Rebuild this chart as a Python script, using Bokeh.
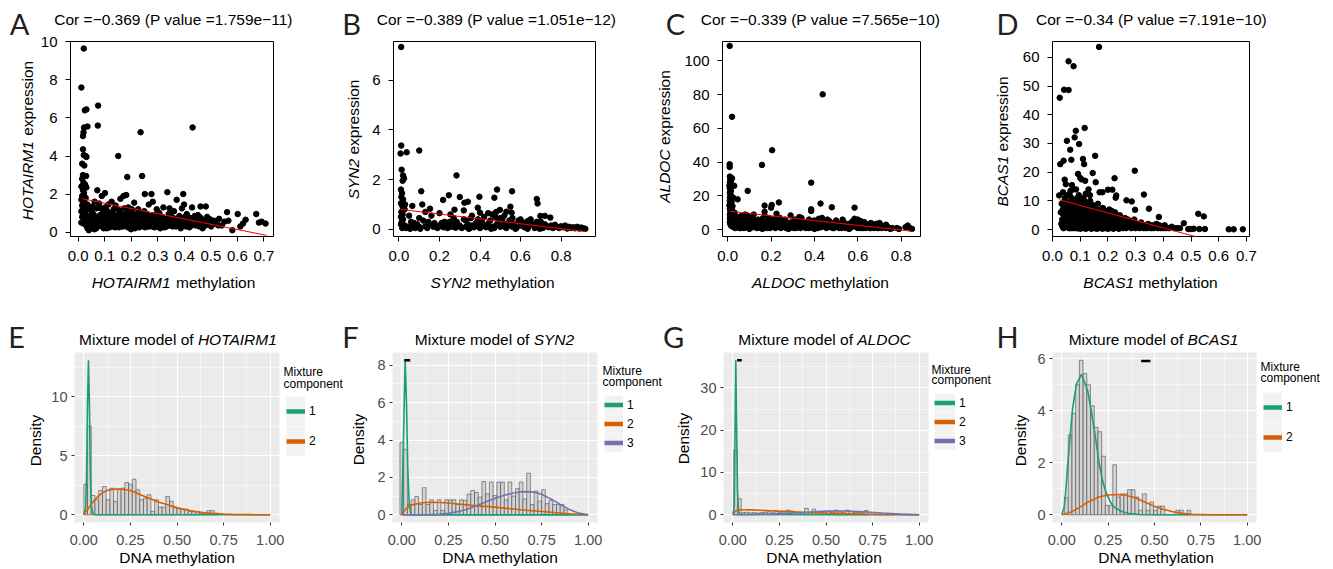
import math
from bokeh.plotting import figure
from bokeh.models import Label, FixedTicker, Legend, LegendItem, Range1d
from bokeh.layouts import row, column
from bokeh.embed import file_html
from bokeh.resources import INLINE

NAN = float("nan")

# ---------------------------------------------------------------- data: scatter panels
hotairm1_points = [
    (0.012,7.6),(0.021,9.65),(0.025,6.4),(0.031,6.45),(0.022,5.5),(0.02,5.25),(0.018,5.05),(0.035,5.55),
    (0.018,4.35),(0.021,4.05),(0.028,4.0),(0.031,3.95),(0.015,3.6),(0.023,3.5),(0.018,3.0),(0.03,2.95),
    (0.015,2.8),(0.02,2.6),(0.026,2.5),(0.012,2.4),(0.031,2.35),(0.018,2.2),(0.022,2.05),(0.015,1.9),
    (0.028,1.8),(0.012,1.7),(0.02,1.6),(0.025,1.5),(0.015,1.4),(0.03,1.3),(0.02,1.2),(0.012,1.1),
    (0.025,1.0),(0.018,0.95),(0.03,0.85),(0.015,0.8),(0.022,0.7),(0.028,0.6),(0.012,0.5),(0.02,0.45),
    (0.03,0.35),(0.035,0.2),(0.04,0.1),(0.045,0.3),(0.04,0.55),(0.035,1.45),(0.04,1.2),
    (0.051,0.25),(0.049,0.6),(0.053,1.05),(0.056,0.45),(0.054,1.35),(0.061,0.15),(0.059,0.9),(0.062,1.6),
    (0.066,0.5),(0.064,0.3),(0.071,0.65),(0.069,1.25),(0.072,2.2),(0.075,6.65),(0.074,5.6),(0.081,0.5),
    (0.079,1.5),(0.082,0.35),(0.086,1.25),(0.084,0.55),(0.091,0.4),(0.089,1.9),(0.092,0.8),(0.096,0.2),
    (0.094,0.6),(0.101,2.05),(0.099,0.6),(0.102,1.3),(0.106,0.85),(0.104,0.45),(0.111,1.1),(0.109,0.35),
    (0.112,0.55),(0.116,0.7),(0.114,1.45),(0.121,0.5),(0.119,0.25),(0.122,0.9),(0.126,1.6),(0.124,0.6),
    (0.131,0.7),(0.129,1.0),(0.132,0.4),(0.136,0.55),(0.134,1.2),(0.141,1.4),(0.139,0.25),(0.142,0.45),
    (0.146,0.8),(0.144,0.6),(0.151,4.0),(0.149,0.9),(0.152,0.5),(0.156,0.35),(0.154,1.15),(0.161,0.55),
    (0.159,1.75),(0.162,0.7),(0.166,0.45),(0.164,0.95),(0.171,1.9),(0.169,0.3),(0.172,0.6),(0.176,0.8),
    (0.174,1.25),(0.181,1.95),(0.179,0.8),(0.182,0.5),(0.185,2.9),(0.184,0.65),(0.187,0.25),(0.191,0.45),
    (0.189,1.3),(0.192,0.9),(0.196,0.6),(0.194,1.05),(0.201,0.6),(0.199,0.15),(0.202,1.2),(0.204,0.75),
    (0.206,1.0),(0.207,0.45),(0.211,1.55),(0.209,0.7),(0.212,0.5),(0.216,0.35),(0.214,0.2),(0.217,0.9),
    (0.221,0.9),(0.219,0.5),(0.222,0.6),(0.226,1.2),(0.224,0.7),(0.231,0.65),(0.229,0.25),(0.232,0.4),
    (0.235,5.25),(0.236,0.55),(0.234,1.0),(0.241,2.95),(0.239,0.4),(0.242,0.85),(0.246,0.8),(0.244,0.6),
    (0.251,2.0),(0.249,1.1),(0.252,0.25),(0.253,0.5),(0.256,0.55),(0.254,0.7),(0.261,0.3),(0.259,0.95),
    (0.262,0.6),(0.266,1.45),(0.264,0.45),(0.271,0.75),(0.269,0.55),(0.276,2.0),(0.274,0.5),(0.277,0.35),
    (0.281,1.6),(0.279,0.3),(0.282,0.65),(0.286,0.9),(0.284,0.5),(0.291,0.35),(0.289,0.7),(0.296,1.2),
    (0.294,0.6),(0.301,0.6),(0.299,0.85),(0.302,0.4),(0.306,1.0),(0.304,0.5),(0.311,0.45),(0.309,0.2),
    (0.312,0.65),(0.316,0.8),(0.314,0.55),(0.321,1.3),(0.319,0.55),(0.326,0.25),(0.324,0.7),(0.331,0.65),
    (0.329,0.4),(0.336,2.1),(0.334,0.5),(0.341,0.95),(0.339,0.6),(0.346,0.5),(0.344,1.25),(0.351,0.75),
    (0.349,1.0),(0.352,0.35),(0.356,0.3),(0.354,0.6),(0.361,1.1),(0.359,0.45),(0.371,1.7),(0.369,0.55),
    (0.376,0.7),(0.381,0.85),(0.379,0.35),(0.386,0.2),(0.384,0.6),(0.391,1.25),(0.389,0.45),(0.396,2.0),
    (0.394,0.75),(0.401,0.6),(0.399,1.45),(0.406,0.3),(0.411,0.4),(0.409,0.95),(0.416,0.55),(0.421,0.75),
    (0.419,0.25),(0.431,5.5),(0.429,1.3),(0.432,0.5),(0.441,0.5),(0.439,0.85),(0.446,0.65),(0.451,0.9),
    (0.449,0.6),(0.456,0.3),(0.454,0.5),(0.461,1.35),(0.459,0.55),(0.466,0.65),(0.464,0.7),(0.471,0.45),
    (0.469,0.2),(0.481,1.35),(0.479,0.6),(0.486,0.8),(0.491,0.55),(0.489,0.4),(0.501,0.3),(0.499,0.65),
    (0.511,0.45),(0.521,0.55),(0.531,0.7),(0.529,0.35),(0.541,0.35),(0.551,0.55),(0.561,1.05),(0.566,0.6),
    (0.581,0.1),(0.601,0.95),(0.611,0.3),(0.621,0.45),(0.631,0.65),(0.671,0.95),(0.681,0.5),(0.691,0.55),
    (0.706,0.45),
    (0.043,0.65),(0.047,0.9),(0.058,0.4),(0.063,0.75),(0.068,0.2),(0.077,0.7),(0.083,0.9),(0.088,0.3),
    (0.093,1.05),(0.098,0.35),(0.103,0.7),(0.108,0.2),(0.113,0.85),(0.118,0.4),(0.123,0.75),(0.128,0.3),
    (0.133,0.85),(0.138,0.6),(0.143,0.35),(0.148,0.7),(0.153,0.25),(0.158,0.6),(0.163,0.3),(0.168,0.8),
    (0.173,0.45),(0.178,0.35),(0.183,1.05),(0.188,0.6),(0.193,0.35),(0.198,0.8),(0.203,0.35),(0.208,0.6),
    (0.213,0.85),(0.218,0.65),(0.223,0.35),(0.228,0.55),(0.233,0.8),(0.238,0.3),(0.243,0.5),(0.248,0.75),
    (0.258,0.4),(0.263,0.8),(0.268,0.3),(0.273,0.6),(0.278,0.85),(0.283,0.45),(0.288,0.25),(0.293,0.5),
    (0.298,0.3),(0.303,0.7),(0.308,0.55),(0.313,0.35),(0.318,0.7),(0.323,0.45),(0.328,0.55),(0.333,0.3),
    (0.338,0.75),(0.343,0.35),(0.348,0.6),(0.358,0.75),(0.363,0.5),(0.368,0.3),(0.373,0.45),(0.378,0.6),
    (0.383,0.45),(0.388,0.7),(0.393,0.3),(0.398,0.5),(0.403,0.8),(0.413,0.7),(0.418,0.45),(0.423,0.6),
    (0.428,0.35),(0.438,0.6),(0.443,0.35),(0.448,0.75),(0.458,0.8),(0.463,0.4),(0.473,0.6),(0.478,0.35),
    (0.483,0.5),(0.493,0.7),(0.503,0.5),(0.513,0.6),(0.523,0.4),
]
hotairm1_fit_x = [0.014, 0.71]
hotairm1_fit_y = [1.76, -0.17]

syn2_points = [
    (0.011,7.34),(0.011,3.37),(0.008,3.05),(0.038,3.1),(0.1,3.17),(0.013,2.4),(0.02,2.17),(0.025,2.05),
    (0.018,1.95),(0.01,1.6),(0.015,1.45),(0.012,1.3),(0.02,1.2),(0.01,1.05),(0.016,0.95),(0.022,0.85),
    (0.012,0.7),(0.018,0.6),(0.01,0.5),(0.02,0.4),(0.014,0.3),(0.01,0.2),(0.02,0.12),(0.016,0.05),
    (0.03,0.15),(0.035,0.05),(0.028,0.8),(0.03,1.0),
    (0.284,2.17),(0.484,1.6),(0.558,1.53),(0.11,1.53),(0.246,1.37),(0.218,1.18),(0.30,1.3),(0.397,1.31),
    (0.471,1.27),(0.68,1.22),(0.684,1.04),(0.323,1.07),(0.34,1.11),(0.115,1.0),(0.066,0.94),(0.153,0.83),
    (0.389,0.87),(0.274,0.79),(0.32,0.76),(0.254,0.6),(0.40,0.67),(0.498,0.78),(0.53,0.71),(0.55,0.91),
    (0.556,0.67),(0.698,0.54),(0.72,0.54),(0.747,0.47),
    (0.05,0.1),(0.06,0.3),(0.07,0.15),(0.08,0.05),(0.09,0.2),(0.1,0.1),(0.12,0.35),(0.13,0.12),(0.14,0.05),
    (0.15,0.2),(0.16,0.55),(0.17,0.1),(0.18,0.15),(0.19,0.05),(0.2,0.12),(0.21,0.25),(0.22,0.08),(0.23,0.18),
    (0.24,0.05),(0.25,0.14),(0.26,0.1),(0.27,0.2),(0.28,0.06),(0.29,0.12),(0.3,0.15),(0.31,0.05),(0.32,0.4),
    (0.33,0.1),(0.34,0.2),(0.35,0.05),(0.355,0.45),(0.36,0.15),(0.37,0.08),(0.38,0.25),(0.39,0.12),(0.4,0.05),
    (0.41,0.3),(0.42,0.15),(0.43,0.08),(0.44,0.22),(0.45,0.35),(0.46,0.1),(0.47,0.05),(0.475,0.5),(0.48,0.18),
    (0.49,0.3),(0.5,0.1),(0.51,0.4),(0.52,0.22),(0.53,0.05),(0.54,0.15),(0.545,0.35),(0.55,0.28),(0.56,0.1),
    (0.57,0.2),(0.58,0.05),(0.59,0.35),(0.6,0.15),(0.61,0.25),(0.62,0.08),(0.63,0.3),(0.64,0.12),(0.65,0.4),
    (0.66,0.2),(0.67,0.05),(0.68,0.15),(0.69,0.25),(0.7,0.1),(0.71,0.05),(0.72,0.2),(0.73,0.12),(0.74,0.08),
    (0.75,0.15),(0.76,0.05),(0.77,0.18),(0.78,0.1),(0.79,0.05),(0.8,0.12),(0.81,0.08),(0.82,0.15),(0.83,0.03),
    (0.84,0.1),(0.85,0.05),(0.86,0.08),(0.87,0.04),(0.88,0.1),(0.89,0.03),(0.9,0.07),(0.91,0.04),(0.92,0.02),
    (0.13,0.7),(0.2,0.65),(0.27,0.45),(0.36,0.55),(0.42,0.5),(0.46,0.6),(0.5,0.45),(0.52,0.55),(0.56,0.45),
    (0.6,0.4),(0.64,0.35),(0.68,0.3),(0.7,0.3),(0.05,0.55),(0.1,0.45),(0.25,0.3),(0.33,0.35),(0.39,0.4),
    (0.44,0.65),(0.48,0.7),(0.055,0.02),(0.075,0.25),(0.105,0.02),(0.145,0.3),(0.175,0.25),(0.225,0.3),
    (0.285,0.3),(0.345,0.02),(0.405,0.2),(0.455,0.02),(0.515,0.12),(0.575,0.02),(0.635,0.02),(0.695,0.02),
]
syn2_fit_x = [0.01, 0.92]
syn2_fit_y = [0.80, -0.09]

aldoc_points = [
    (0.009,108.9),(0.02,66.9),(0.009,38.8),(0.009,37.2),(0.01,31.5),(0.012,30),(0.02,30.5),(0.015,29),
    (0.01,28),(0.013,27),(0.008,26),(0.01,24.5),(0.015,23),(0.01,22),(0.012,21),(0.016,20),(0.01,19),
    (0.013,18),(0.01,17),(0.018,16.5),(0.012,15.5),(0.008,14.5),(0.015,13.5),(0.01,12.5),(0.02,12),
    (0.012,11),(0.016,10),(0.01,9),(0.02,8.5),(0.012,8),(0.018,7),(0.01,6.5),(0.015,6),(0.022,5),(0.01,4.5),
    (0.018,4),(0.012,3.5),(0.025,3),(0.015,2.5),(0.02,2),(0.028,1.5),(0.03,4),(0.035,6),(0.04,3),(0.028,8),
    (0.03,26),(0.032,10),(0.038,7.5),(0.045,5),(0.025,19),(0.022,14),
    (0.438,80.2),(0.205,47.1),(0.158,38.4),(0.385,27.9),(0.092,23),(0.046,18),(0.236,16.2),(0.2,13.1),
    (0.203,14.7),(0.17,14.3),(0.385,12.1),(0.385,11.1),(0.428,15.5),(0.48,13.3),(0.585,13.1),(0.17,10.7),
    (0.225,9.5),
    (0.05,6),(0.055,3),(0.06,8),(0.065,4.5),(0.07,2),(0.075,7),(0.08,5),(0.085,3.5),(0.09,8.5),(0.095,2.5),
    (0.1,6),(0.105,4),(0.11,1.5),(0.115,7.5),(0.12,3),(0.125,5.5),(0.13,2),(0.135,4.5),(0.14,3),(0.145,1.5),
    (0.15,2.5),(0.155,4),(0.16,6.5),(0.165,2),(0.17,8.5),(0.175,3),(0.18,1),(0.185,5),(0.19,2),(0.195,3.5),
    (0.2,1.5),(0.205,6),(0.21,2.5),(0.215,4),(0.22,1),(0.225,3),(0.23,5.5),(0.235,2),(0.24,7),(0.245,3.5),
    (0.25,1.5),(0.255,4.5),(0.26,2.5),(0.265,6),(0.27,1),(0.275,3),(0.28,2),(0.285,4),(0.29,8.5),(0.295,1.5),
    (0.3,3.5),(0.305,2.5),(0.31,6),(0.315,1),(0.32,4),(0.325,2),(0.33,7.5),(0.335,3),(0.34,1.5),(0.345,5),
    (0.35,2.5),(0.355,3.5),(0.36,1),(0.365,4),(0.37,2),(0.375,6),(0.38,3),(0.385,1.5),(0.39,4.5),(0.395,2.5),
    (0.4,5.5),(0.405,1),(0.41,3),(0.415,2),(0.42,6.5),(0.425,4),(0.43,1.5),(0.435,7),(0.44,3),(0.445,2),
    (0.45,4.5),(0.455,1),(0.46,3),(0.465,2.5),(0.47,5),(0.475,1.5),(0.48,3.5),(0.485,2),(0.49,1),(0.495,3),
    (0.5,2),(0.505,4),(0.51,1.5),(0.515,2.5),(0.52,3.5),(0.525,1),(0.53,2),(0.535,4.5),(0.54,1.5),(0.545,3),
    (0.55,2),(0.555,1),(0.56,3.5),(0.565,2.5),(0.57,1.5),(0.575,5),(0.58,3),(0.585,6.5),(0.59,2),(0.595,5.5),
    (0.6,1),(0.605,4),(0.61,2.5),(0.615,5),(0.62,1.5),(0.625,3),(0.63,2),(0.635,1),(0.64,2.5),(0.645,1.5),
    (0.65,3),(0.655,2),(0.66,1),(0.665,2.5),(0.67,1.5),(0.675,3),(0.68,2),(0.685,3.5),(0.69,1),(0.695,2),
    (0.7,1.5),(0.705,2.5),(0.71,1),(0.72,2),(0.73,1),(0.74,1.5),(0.75,0.5),(0.76,1),(0.78,1),(0.79,0.5),
    (0.82,1.5),(0.83,2.5),(0.84,1),(0.85,0.5),
    (0.06,1),(0.08,9),(0.1,0.5),(0.12,9),(0.14,6),(0.16,0.5),(0.19,7),(0.22,6.5),(0.25,5),(0.28,0.5),
    (0.31,3),(0.34,7),(0.37,5),(0.4,0.5),(0.43,4),(0.46,6),(0.5,5.5),(0.53,6),(0.56,0.5),(0.6,6),(0.63,4.5),
    (0.66,4),(0.7,4),(0.73,3),
    (0.035,1),(0.045,2),(0.055,1),(0.065,2.5),(0.075,1),(0.085,1.5),(0.095,4.5),(0.105,1),(0.115,2.5),
    (0.125,1.5),(0.135,1),(0.145,3.5),(0.155,1),(0.165,4.5),(0.175,1.5),(0.185,2),(0.195,1),(0.215,1.5),
    (0.235,4),(0.245,1),(0.255,2),(0.265,3.5),(0.275,1.5),(0.285,1),(0.295,4.5),(0.305,1),(0.315,3),
    (0.325,4.5),(0.335,1),(0.345,3),(0.355,1.5),(0.365,2.5),(0.375,1),(0.395,1),(0.405,3),(0.415,1),
    (0.425,2),(0.445,4),(0.455,2.5),(0.475,3),(0.485,1),(0.495,1.5),(0.515,1),(0.525,3),(0.545,1),
    (0.555,3),(0.565,1),(0.575,2),(0.595,1.5),(0.605,2),(0.615,1),(0.625,1),(0.645,3),(0.655,1),
    (0.675,1),(0.695,1),
]
aldoc_fit_x = [0.012, 0.858]
aldoc_fit_y = [10.9, -1.0]

bcas1_points = [
    (0.168,63.6),(0.058,58.6),(0.076,56.9),(0.042,48.7),(0.058,48.6),(0.026,45.9),(0.116,35.4),(0.084,34.4),
    (0.052,30.9),(0.08,32.1),(0.064,27.8),(0.096,29.8),(0.154,25.7),(0.068,24.3),(0.11,24.6),(0.114,22.8),
    (0.028,22.8),(0.04,24.0),(0.145,19.7),(0.092,19.4),(0.297,20.5),(0.224,17.9),(0.156,16.5),(0.044,17.4),
    (0.048,15.8),(0.1,18),(0.105,17.5),(0.118,17),(0.024,11.9),(0.33,12.2),(0.348,7.3),(0.384,4.4),
    (0.474,2.2),(0.526,5.5),(0.546,4.6),(0.267,10.2),(0.286,9.8),(0.298,6.9),(0.2,13.9),(0.216,13.9),
    (0.23,11.9),(0.228,11.1),(0.17,13),(0.18,13),(0.065,13.5),(0.07,15.5),(0.075,14),(0.085,14),(0.13,14),
    (0.135,12),(0.12,12.5),(0.062,12),(0.09,11),(0.095,12),
    (0.035,3.5),(0.038,1.5),(0.04,5),(0.042,8),(0.045,2.5),(0.047,6.5),(0.05,1),(0.052,4),(0.055,9.5),
    (0.057,2),(0.06,6),(0.062,0.5),(0.064,3.5),(0.066,8),(0.068,1.5),(0.07,5),(0.072,10),(0.074,2.5),
    (0.076,7),(0.078,0.5),(0.08,4),(0.082,9),(0.084,1.5),(0.086,6),(0.088,3),(0.09,0.5),(0.092,7.5),
    (0.094,2),(0.096,5),(0.098,10.5),(0.1,1),(0.102,3.5),(0.104,8),(0.106,0.5),(0.108,6),(0.11,2.5),
    (0.112,11),(0.114,4.5),(0.116,1),(0.118,7),(0.12,3),(0.122,9.5),(0.124,0.5),(0.126,5),(0.128,2),
    (0.13,7.5),(0.132,1),(0.134,4),(0.136,10),(0.138,2.5),(0.14,6),(0.142,0.5),(0.144,3.5),(0.146,8.5),
    (0.148,1.5),(0.15,5),(0.152,0.5),(0.154,3),(0.156,7),(0.158,1),(0.16,4.5),(0.162,2),(0.164,9),
    (0.166,0.5),(0.168,3.5),(0.17,6),(0.172,1),(0.174,2.5),(0.176,5),(0.178,0.5),(0.18,3),(0.182,7.5),
    (0.184,1.5),(0.186,4),(0.188,0.5),(0.19,2.5),(0.192,6.5),(0.194,1),(0.196,3.5),(0.198,0.5),(0.2,5),
    (0.202,2),(0.205,7),(0.208,0.5),(0.21,3),(0.213,1),(0.216,4.5),(0.22,0.5),(0.223,2.5),(0.226,6),
    (0.23,1),(0.233,3.5),(0.236,0.5),(0.24,2),(0.243,5),(0.246,1),(0.25,3),(0.254,0.5),(0.258,1.5),
    (0.262,4),(0.266,0.5),(0.27,2),(0.275,1),(0.28,3),(0.285,0.5),(0.29,1.5),(0.295,3.5),(0.3,0.5),
    (0.305,2),(0.31,1),(0.315,0.5),(0.32,2.5),(0.325,1),(0.33,0.5),(0.335,1.5),(0.34,0.5),(0.345,2),
    (0.35,1),(0.355,0.5),(0.36,1.5),(0.365,0.5),(0.37,1),(0.375,2),(0.38,0.5),(0.385,1.5),(0.39,0.5),
    (0.395,1),(0.4,0.5),(0.405,1.5),(0.41,0.5),(0.42,0.5),(0.43,1),(0.44,0.5),(0.45,0.5),(0.46,0.5),
    (0.49,0.2),(0.5,0.2),(0.51,0.3),(0.53,0.2),(0.55,0.2),(0.636,0.1),(0.654,0.1),(0.687,0.1),
    (0.036,1),(0.045,4.5),(0.05,7),(0.058,3),(0.063,1.5),(0.07,0.5),(0.077,3.5),(0.083,6.5),(0.087,0.5),
    (0.093,4),(0.1,8.5),(0.103,2),(0.11,5),(0.115,0.5),(0.12,5.5),(0.125,1.5),(0.13,3),(0.14,1.5),
    (0.145,5.5),(0.15,2.5),(0.16,1),(0.165,4),(0.175,1.5),(0.185,2.5),(0.19,4.5),(0.2,1),(0.21,5.5),
    (0.22,3.5),(0.235,2),(0.25,1.5),(0.26,2.5),(0.28,1.5),(0.03,6),(0.033,9),(0.038,13),(0.045,11),
    (0.055,12),(0.04,0.5),(0.06,0.5),(0.08,1),(0.1,0.3),(0.12,0.3),(0.14,0.3),(0.16,0.3),(0.18,0.3),
    (0.2,0.3),(0.22,0.3),(0.24,0.3),
    (0.032,2),(0.037,7),(0.041,3),(0.043,10),(0.046,5.5),(0.049,8.5),(0.051,2.5),(0.053,6),(0.056,3.5),
    (0.059,7.5),(0.061,2.5),(0.063,9),(0.065,5),(0.067,3),(0.069,11),(0.071,2),(0.073,6),(0.075,4),
    (0.077,9.5),(0.079,2),(0.081,5.5),(0.083,3),(0.085,8),(0.087,1.5),(0.089,4.5),(0.091,10),(0.093,2.5),
    (0.095,6.5),(0.097,3),(0.099,4),(0.101,6),(0.103,9),(0.105,2.5),(0.107,4),(0.109,9.5),(0.111,1.5),
    (0.113,6.5),(0.115,3),(0.117,8.5),(0.119,4.5),(0.121,1.5),(0.123,6.5),(0.125,3.5),(0.127,8),(0.129,1),
    (0.131,5.5),(0.133,2.5),(0.135,7),(0.137,4),(0.139,1.5),(0.141,4.5),(0.143,2),(0.147,6),(0.149,3),
    (0.151,1.5),(0.153,4),(0.157,2),(0.159,5.5),(0.161,3),(0.163,1),(0.167,6.5),(0.169,2),(0.171,4),
    (0.173,7),(0.177,2),(0.179,4.5),(0.183,2.5),(0.187,5.5),(0.189,1.5),(0.191,3.5),(0.195,6),(0.197,2),
    (0.201,3.5),(0.204,1.5),(0.207,4),(0.211,2),(0.214,6.5),(0.218,3),(0.221,1.5),(0.225,4),(0.228,2),
    (0.232,5),(0.238,3),(0.242,1),(0.248,4),(0.252,2),(0.256,3.5),(0.26,1),(0.264,2.5),(0.268,1),
    (0.272,3.5),(0.278,2),(0.283,1),(0.288,2.5),
]
bcas1_fit_x = [0.024, 0.687]
bcas1_fit_y = [10.4, -6.9]

# tick values / labels (scatter)
hotairm1_xticks = [0.0, 0.1, 0.2, 0.3, 0.4, 0.5, 0.6, 0.7]
hotairm1_xlabels = ["0.0", "0.1", "0.2", "0.3", "0.4", "0.5", "0.6", "0.7"]
hotairm1_yticks = [0, 2, 4, 6, 8, 10]
hotairm1_ylabels = ["0", "2", "4", "6", "8", "10"]
syn2_xticks = [0.0, 0.2, 0.4, 0.6, 0.8]
syn2_xlabels = ["0.0", "0.2", "0.4", "0.6", "0.8"]
syn2_yticks = [0, 2, 4, 6]
syn2_ylabels = ["0", "2", "4", "6"]
aldoc_xticks = [0.0, 0.2, 0.4, 0.6, 0.8]
aldoc_xlabels = ["0.0", "0.2", "0.4", "0.6", "0.8"]
aldoc_yticks = [0, 20, 40, 60, 80, 100]
aldoc_ylabels = ["0", "20", "40", "60", "80", "100"]
bcas1_xticks = [0.0, 0.1, 0.2, 0.3, 0.4, 0.5, 0.6, 0.7]
bcas1_xlabels = ["0.0", "0.1", "0.2", "0.3", "0.4", "0.5", "0.6", "0.7"]
bcas1_yticks = [0, 10, 20, 30, 40, 50, 60]
bcas1_ylabels = ["0", "10", "20", "30", "40", "50", "60"]

cor_texts = ["Cor =\u22120.369 (P value =1.759e\u221211)",
             "Cor =\u22120.389 (P value =1.051e\u221212)",
             "Cor =\u22120.339 (P value =7.565e\u221210)",
             "Cor =\u22120.34 (P value =7.191e\u221210)"]
genes = ["HOTAIRM1", "SYN2", "ALDOC", "BCAS1"]

# ---------------------------------------------------------------- data: mixture panels
bin_width = 0.02
hotairm1_bin_start = 0.0
hotairm1_hist = [2.59, 7.5, 1.63, 1.27, 2.06, 2.39, 1.27, 2.25, 1.13, 2.17, 2.25, 2.73, 2.59, 3.01, 2.11,
                 1.27, 1.41, 1.69, 0.28, 1.27, 0.65, 0.65, 1.55, 1.13, 0.65, 0.56, 0.48, 0.48, 0.28, 0.28,
                 0.28, 0.14, 0.14, 0.34, 0.34, 0.14]
syn2_bin_start = -0.01
syn2_hist = [3.86, 3.5, 0.55, 0.8, 0.98, 0.55, 1.45, 0.55, 0.8, 0.23, 0.8, 0.23, 0.8, 0.8, 0.8, 0.55, 0.8,
             0.77, 1.1, 1.3, 1.2, 0.95, 1.78, 1.12, 1.75, 1.03, 1.75, 1.75, 0.8, 1.75, 1.0, 1.4, 1.75, 0.85,
             2.23, 0.55, 1.27, 0.73, 1.34, 0.6, 0.77, 0.55, 0.55, 0.55, 0.27, 0.05]
aldoc_bin_start = 0.005
aldoc_hist = [15.3, 3.8, 0.5, 0.6, 0.45, 0.5, 0.4, 0.5, 0.6, 0.7, 0.45, 0.85, 0.6, 0.4, 1.1, 0.9, 0.6, 0.5,
              0.45, 1.5, 0.6, 1.3, 0.7, 0.6, 0.6, 0.8, 0.6, 1.1, 0.7, 0.6, 1.1, 0.8, 0.5, 0.6, 0.6, 1.0]
bcas1_bin_start = 0.015
bcas1_hist = [0.65, 3.07, 3.9, 5.0, 5.94, 5.43, 5.0, 4.19, 3.36, 3.19, 2.25, 0.36, 0.36, 1.92, 0.68, 0.8,
              0.8, 0.96, 0.96, 0.68, 0.17, 0.8, 0.17, 0.49, 0.17, 0.33, 0.33, 0, 0, 0, 0.17, 0.17, 0, 0.17]

hotairm1_c1_x = [0, 0.01, 0.015, 0.02, 0.025, 0.03, 0.035, 0.04, 0.05, 0.06, 1.0]
hotairm1_c1_y = [0, 0.6, 3.5, 9.5, 13.1, 9.5, 3.5, 0.8, 0.05, 0, 0]
hotairm1_c2_x = [0, 0.025, 0.05, 0.075, 0.1, 0.125, 0.15, 0.175, 0.2, 0.225, 0.25, 0.275, 0.3, 0.35, 0.4,
                 0.45, 0.5, 0.55, 0.6, 0.65, 0.7, 0.75, 0.8, 0.85, 0.9, 0.95, 1.0]
hotairm1_c2_y = [0, 0.55, 1.1, 1.55, 1.85, 2.05, 2.15, 2.18, 2.17, 2.12, 2.05, 1.9, 1.72, 1.4, 1.08, 0.84,
                 0.58, 0.4, 0.26, 0.16, 0.1, 0.06, 0.03, 0.015, 0.005, 0, 0]

syn2_c1_x = [0, 0.01, 0.018, 0.025, 0.032, 0.04, 0.05, 1.0]
syn2_c1_y = [0, 4.5, 8.27, 6.0, 2.5, 0.5, 0, 0]
syn2_c2_x = [0, 0.025, 0.05, 0.1, 0.15, 0.2, 0.25, 0.3, 0.35, 0.4, 0.45, 0.5, 0.55, 0.6, 0.65, 0.7, 0.75,
             0.8, 0.85, 0.9, 0.95, 1.0]
syn2_c2_y = [0.05, 0.35, 0.52, 0.63, 0.67, 0.66, 0.63, 0.58, 0.53, 0.48, 0.45, 0.41, 0.36, 0.31, 0.26,
             0.22, 0.18, 0.14, 0.1, 0.06, 0.03, 0]
syn2_c3_x = [0, 0.1, 0.15, 0.2, 0.25, 0.3, 0.35, 0.4, 0.45, 0.5, 0.55, 0.6, 0.65, 0.7, 0.75, 0.8, 0.85,
             0.9, 0.95, 1.0]
syn2_c3_y = [0, 0, 0.01, 0.03, 0.08, 0.17, 0.3, 0.48, 0.68, 0.88, 1.05, 1.17, 1.24, 1.23, 1.1, 0.85, 0.55,
             0.28, 0.09, 0]

aldoc_c1_x = [0, 0.008, 0.012, 0.016, 0.02, 0.025, 0.03, 0.04, 0.3, 0.6, 1.0]
aldoc_c1_y = [0, 2, 20, 36.55, 22, 6, 0.8, 0.05, 0.05, 0.02, 0]
aldoc_c2_x = [0, 0.015, 0.03, 0.05, 0.1, 0.2, 0.3, 0.4, 0.5, 0.6, 0.7, 0.8, 0.9, 1.0]
aldoc_c2_y = [0, 0.9, 1.25, 1.2, 1.15, 0.95, 0.75, 0.55, 0.4, 0.28, 0.18, 0.1, 0.05, 0]
aldoc_c3_x = [0, 0.1, 0.2, 0.3, 0.4, 0.5, 0.55, 0.6, 0.7, 0.8, 0.9, 1.0]
aldoc_c3_y = [0, 0.05, 0.15, 0.35, 0.6, 0.85, 0.9, 0.88, 0.7, 0.4, 0.15, 0]

bcas1_c1_x = [0, 0.013, 0.022, 0.031, 0.04, 0.058, 0.079, 0.106, 0.14, 0.162, 0.184, 0.202, 0.222, 0.242,
              0.262, 0.283, 0.32, 0.365, 0.42, 0.5, 1.0]
bcas1_c1_y = [0, 0.29, 0.93, 1.83, 2.6, 4.06, 5.02, 5.4, 4.76, 3.87, 2.85, 1.95, 1.25, 0.8, 0.49, 0.29,
              0.13, 0.04, 0.01, 0, 0]
bcas1_c2_x = [0, 0.05, 0.1, 0.15, 0.2, 0.25, 0.3, 0.35, 0.4, 0.45, 0.5, 0.55, 0.6, 0.65, 0.7, 0.75, 0.8, 1.0]
bcas1_c2_y = [0, 0.1, 0.3, 0.52, 0.68, 0.76, 0.78, 0.74, 0.64, 0.48, 0.32, 0.2, 0.11, 0.05, 0.02, 0.01, 0, 0]

# short black dash seen near the top of panels F, G, H: [x0, x1, y]
syn2_dash = [0.013, 0.045, 8.27]
aldoc_dash = [0.023, 0.048, 36.55]
bcas1_dash = [0.428, 0.478, 5.91]

mix_xticks = [0.0, 0.25, 0.5, 0.75, 1.0]
mix_xlabels = ["0.00", "0.25", "0.50", "0.75", "1.00"]
mix_xminor = [0.125, 0.375, 0.625, 0.875]
hotairm1_mix_yticks = [0, 5, 10]
hotairm1_mix_yminor = [2.5, 7.5, 12.5]
syn2_mix_yticks = [0, 2, 4, 6, 8]
syn2_mix_yminor = [1, 3, 5, 7]
aldoc_mix_yticks = [0, 10, 20, 30]
aldoc_mix_yminor = [5, 15, 25, 35]
bcas1_mix_yticks = [0, 2, 4, 6]
bcas1_mix_yminor = [1, 3, 5]
component_labels = ["1", "2", "3"]
component_colors = ["#1B9E77", "#D95F02", "#7570B3"]

# ---------------------------------------------------------------- helpers
W, H = 1333, 569
FONT = "Liberation Sans"
LETTER_FONT = "Lato"
ARIAL_W = {" ": 278, "A": 667, "B": 667, "C": 722, "D": 722, "E": 667, "H": 722, "I": 278, "L": 556,
           "M": 833, "N": 722, "O": 778, "R": 722, "S": 667, "T": 611, "Y": 667, "a": 556, "c": 500,
           "d": 556, "e": 556, "f": 278, "h": 556, "i": 222, "l": 222, "m": 833, "n": 556, "o": 556,
           "p": 556, "r": 333, "s": 500, "t": 278, "u": 556, "x": 500, "y": 500}

# overlay figure (whole window, transparent) that carries the texts and legends
ov = figure(width=W, height=H, x_range=Range1d(0, W), y_range=Range1d(H, 0),
            output_backend="svg", toolbar_location=None, x_axis_type=None, y_axis_type=None,
            min_border=0, min_border_left=0, min_border_right=0, min_border_top=0, min_border_bottom=0,
            styles={"position": "absolute", "left": "0px", "top": "0px", "z-index": "10",
                    "pointer-events": "none"})
ov.background_fill_alpha = 0.0
ov.border_fill_alpha = 0.0
ov.outline_line_color = None
ov.grid.visible = False


def tw(s, size):
    return sum(ARIAL_W.get(c, 556) for c in s) * size / 1000.0


def put(x, y, text, size, italic=False, align="left", angle=0.0, color="black", font=FONT):
    ov.add_layout(Label(x=x, y=y, text=text, text_font=font, text_font_size=f"{size}px",
                        text_font_style="italic" if italic else "normal",
                        text_align=align, text_baseline="middle", angle=angle, text_color=color))


def rich(cx, cy, segments, size, vertical=False):
    total = sum(tw(t, size) for t, _ in segments)
    off = -total / 2.0
    for t, it in segments:
        core = t.strip(" ")
        lead = len(t) - len(t.lstrip(" "))
        trail = len(t) - len(t.rstrip(" "))
        off += tw(" " * lead, size)
        if vertical:
            put(cx, cy - off, core, size, it, "left", math.pi / 2)
        else:
            put(cx + off, cy, core, size, it, "left", 0.0)
        off += tw(core, size) + tw(" " * trail, size)


def make_fig(width, height, left, fw, top, fh, xr, yr):
    return figure(width=width, height=height, x_range=Range1d(*xr), y_range=Range1d(*yr),
                  output_backend="svg", toolbar_location=None,
                  min_border_left=left, min_border_right=width - left - fw,
                  min_border_top=top, min_border_bottom=height - top - fh)


def scatter_panel(spec, pts, fit_x, fit_y, xt, xl, yt, yl, gene, cor, letter):
    p = make_fig(spec["w"], 300, spec["left"], spec["fw"], 41, 195, spec["xr"], spec["yr"])
    p.outline_line_color = "black"
    p.outline_line_alpha = 1.0
    p.outline_line_width = 1
    p.xgrid.visible = False
    p.ygrid.visible = False
    for ax, ticks, labels in ((p.xaxis[0], xt, xl), (p.yaxis[0], yt, yl)):
        ax.ticker = FixedTicker(ticks=ticks)
        ax.major_label_overrides = {t: s for t, s in zip(ticks, labels)}
        ax.axis_line_color = None
        ax.major_tick_out = 5
        ax.major_tick_in = 0
        ax.major_tick_line_color = "black"
        ax.minor_tick_line_color = None
        ax.major_label_text_font = FONT
        ax.major_label_text_font_size = "15px"
        ax.major_label_text_color = "black"
    p.xaxis[0].major_label_standoff = 9
    p.yaxis[0].major_label_standoff = 8
    p.scatter(x=[q[0] for q in pts], y=[q[1] for q in pts], size=5.5, color="black")
    p.line(x=fit_x, y=fit_y, line_color="#FF0000", line_width=1)
    put(spec["letter"][0], spec["letter"][1], letter, 29, align="center", color="#231F20", font=LETTER_FONT)
    put(spec["title"][0], spec["title"][1], cor, 15.5, align="center")
    rich(spec["xlab"][0], spec["xlab"][1], [(gene, True), (" methylation", False)], 15.5)
    rich(spec["ylab"][0], spec["ylab"][1], [(gene, True), (" expression", False)], 15.5, vertical=True)
    return p


def mixture_panel(spec, bin_start, hist, comps, dash, yt, ym, gene, letter):
    p = make_fig(spec["w"], 269, spec["left"], spec["fw"], 52, 170, (-0.05, 1.05), spec["yr"])
    p.background_fill_color = "#EBEBEB"
    p.outline_line_color = None
    for ax, ticks, minor in ((p.xaxis[0], mix_xticks, mix_xminor), (p.yaxis[0], yt, ym)):
        ax.ticker = FixedTicker(ticks=ticks, minor_ticks=minor)
        ax.axis_line_color = None
        ax.major_tick_out = 3
        ax.major_tick_in = 0
        ax.major_tick_line_color = "#333333"
        ax.minor_tick_line_color = None
        ax.major_label_text_font = FONT
        ax.major_label_text_font_size = "14.5px"
        ax.major_label_text_color = "#4D4D4D"
    p.xaxis[0].major_label_overrides = {t: s for t, s in zip(mix_xticks, mix_xlabels)}
    p.yaxis[0].major_label_overrides = {t: str(t) for t in yt}
    p.xaxis[0].major_label_standoff = 8
    p.yaxis[0].major_label_standoff = 3
    for g in (p.xgrid[0], p.ygrid[0]):
        g.grid_line_color = "white"
        g.grid_line_width = 1.1
        g.minor_grid_line_color = "white"
        g.minor_grid_line_width = 0.55
    lefts = [bin_start + i * bin_width for i in range(len(hist))]
    rights = [l + bin_width for l in lefts]
    p.quad(left=lefts, right=rights, bottom=0, top=hist, fill_color="#D2D2D2", fill_alpha=0.9,
           line_color="#4A4A4A", line_width=0.6)
    for (cx, cy), col in zip(comps, component_colors):
        p.line(x=cx, y=cy, line_color=col, line_width=1.6)
    if dash is not None:
        p.segment(x0=[dash[0]], y0=[dash[2]], x1=[dash[1]], y1=[dash[2]], line_color="black", line_width=2.5)
    # legend keys (Bokeh Legend on the overlay)
    items = []
    kh = spec["key_h"]
    for lab, col in zip(component_labels[:len(comps)], component_colors):
        bg = ov.line(x=[NAN], y=[NAN], line_color="#F2F2F2", line_width=kh)
        ln = ov.line(x=[NAN], y=[NAN], line_color=col, line_width=4.5)
        items.append(LegendItem(label=lab, renderers=[bg, ln]))
    kx, kb = spec["key_pos"]
    leg = Legend(items=items, location=(kx, H - kb), orientation="vertical",
                 glyph_width=spec["key_w"], glyph_height=kh, label_height=kh, label_width=6,
                 label_standoff=4, spacing=0, padding=0, margin=0, border_line_color=None,
                 background_fill_alpha=0.0, label_text_font=FONT, label_text_font_size="12px",
                 label_text_color="black")
    ov.add_layout(leg)
    lx, ly1, ly2 = spec["leg_title"]
    put(lx, ly1, "Mixture", 12)
    put(lx, ly2, "component", 12)
    put(spec["letter"][0], spec["letter"][1], letter, 29, align="center", color="#231F20", font=LETTER_FONT)
    rich(spec["title"][0], spec["title"][1], [("Mixture model of ", False), (gene, True)], 15.5)
    put(spec["xlab"][0], spec["xlab"][1], "DNA methylation", 15.5, align="center")
    put(spec["ylab"][0], spec["ylab"][1], "Density", 15.5, align="center", angle=math.pi / 2)
    return p


# ---------------------------------------------------------------- layout specs (window pixels)
specA = dict(w=338, left=70, fw=203, xr=(-0.029, 0.736), yr=(-0.23, 10.02),
             letter=(19, 23), title=(173, 19), xlab=(173, 282), ylab=(27, 140))
specB = dict(w=312, left=55, fw=202, xr=(-0.027, 0.970), yr=(-0.29, 7.56),
             letter=(351, 23), title=(496, 19), xlab=(492, 282), ylab=(353, 139))
specC = dict(w=335, left=72, fw=198, xr=(-0.024, 0.889), yr=(-4.0, 111.5),
             letter=(675, 23), title=(820, 19), xlab=(820, 282), ylab=(664, 136))
specD = dict(w=348, left=67, fw=197, xr=(0.0, 0.711), yr=(-2.4, 65.5),
             letter=(1007, 23), title=(1151, 19), xlab=(1150, 282), ylab=(1002, 141))

specE = dict(w=333, left=74, fw=205, yr=(-0.66, 13.76), key_h=30, key_w=19, key_pos=(286, 456),
             leg_title=(283, 371, 383), letter=(16, 336), title=(178, 339), xlab=(177, 557), ylab=(35, 440))
specF = dict(w=342, left=59, fw=205, yr=(-0.41, 8.68), key_h=19, key_w=19, key_pos=(604, 452),
             leg_title=(602, 370, 381), letter=(350, 336), title=(494, 339), xlab=(500, 557), ylab=(358, 439))
specG = dict(w=325, left=48, fw=205, yr=(-1.83, 38.38), key_h=19, key_w=21, key_pos=(934, 450),
             leg_title=(931, 369, 379), letter=(673, 336), title=(824, 339), xlab=(824, 557), ylab=(683, 438))
specH = dict(w=333, left=52, fw=204, yr=(-0.3, 6.24), key_h=30, key_w=19, key_pos=(1263, 452),
             leg_title=(1260, 366, 377), letter=(1007, 336), title=(1153, 339), xlab=(1156, 557), ylab=(1020, 440))

pA = scatter_panel(specA, hotairm1_points, hotairm1_fit_x, hotairm1_fit_y, hotairm1_xticks, hotairm1_xlabels,
                   hotairm1_yticks, hotairm1_ylabels, genes[0], cor_texts[0], "A")
pB = scatter_panel(specB, syn2_points, syn2_fit_x, syn2_fit_y, syn2_xticks, syn2_xlabels,
                   syn2_yticks, syn2_ylabels, genes[1], cor_texts[1], "B")
pC = scatter_panel(specC, aldoc_points, aldoc_fit_x, aldoc_fit_y, aldoc_xticks, aldoc_xlabels,
                   aldoc_yticks, aldoc_ylabels, genes[2], cor_texts[2], "C")
pD = scatter_panel(specD, bcas1_points, bcas1_fit_x, bcas1_fit_y, bcas1_xticks, bcas1_xlabels,
                   bcas1_yticks, bcas1_ylabels, genes[3], cor_texts[3], "D")

pE = mixture_panel(specE, hotairm1_bin_start, hotairm1_hist,
                   [(hotairm1_c1_x, hotairm1_c1_y), (hotairm1_c2_x, hotairm1_c2_y)], None,
                   hotairm1_mix_yticks, hotairm1_mix_yminor, genes[0], "E")
pF = mixture_panel(specF, syn2_bin_start, syn2_hist,
                   [(syn2_c1_x, syn2_c1_y), (syn2_c2_x, syn2_c2_y), (syn2_c3_x, syn2_c3_y)], syn2_dash,
                   syn2_mix_yticks, syn2_mix_yminor, genes[1], "F")
pG = mixture_panel(specG, aldoc_bin_start, aldoc_hist,
                   [(aldoc_c1_x, aldoc_c1_y), (aldoc_c2_x, aldoc_c2_y), (aldoc_c3_x, aldoc_c3_y)], aldoc_dash,
                   aldoc_mix_yticks, aldoc_mix_yminor, genes[2], "G")
pH = mixture_panel(specH, bcas1_bin_start, bcas1_hist,
                   [(bcas1_c1_x, bcas1_c1_y), (bcas1_c2_x, bcas1_c2_y)], bcas1_dash,
                   bcas1_mix_yticks, bcas1_mix_yminor, genes[3], "H")

grid = column(row(pA, pB, pC, pD), row(pE, pF, pG, pH))
with open("out.html", "w") as f:
    f.write(file_html([grid, ov], INLINE))
